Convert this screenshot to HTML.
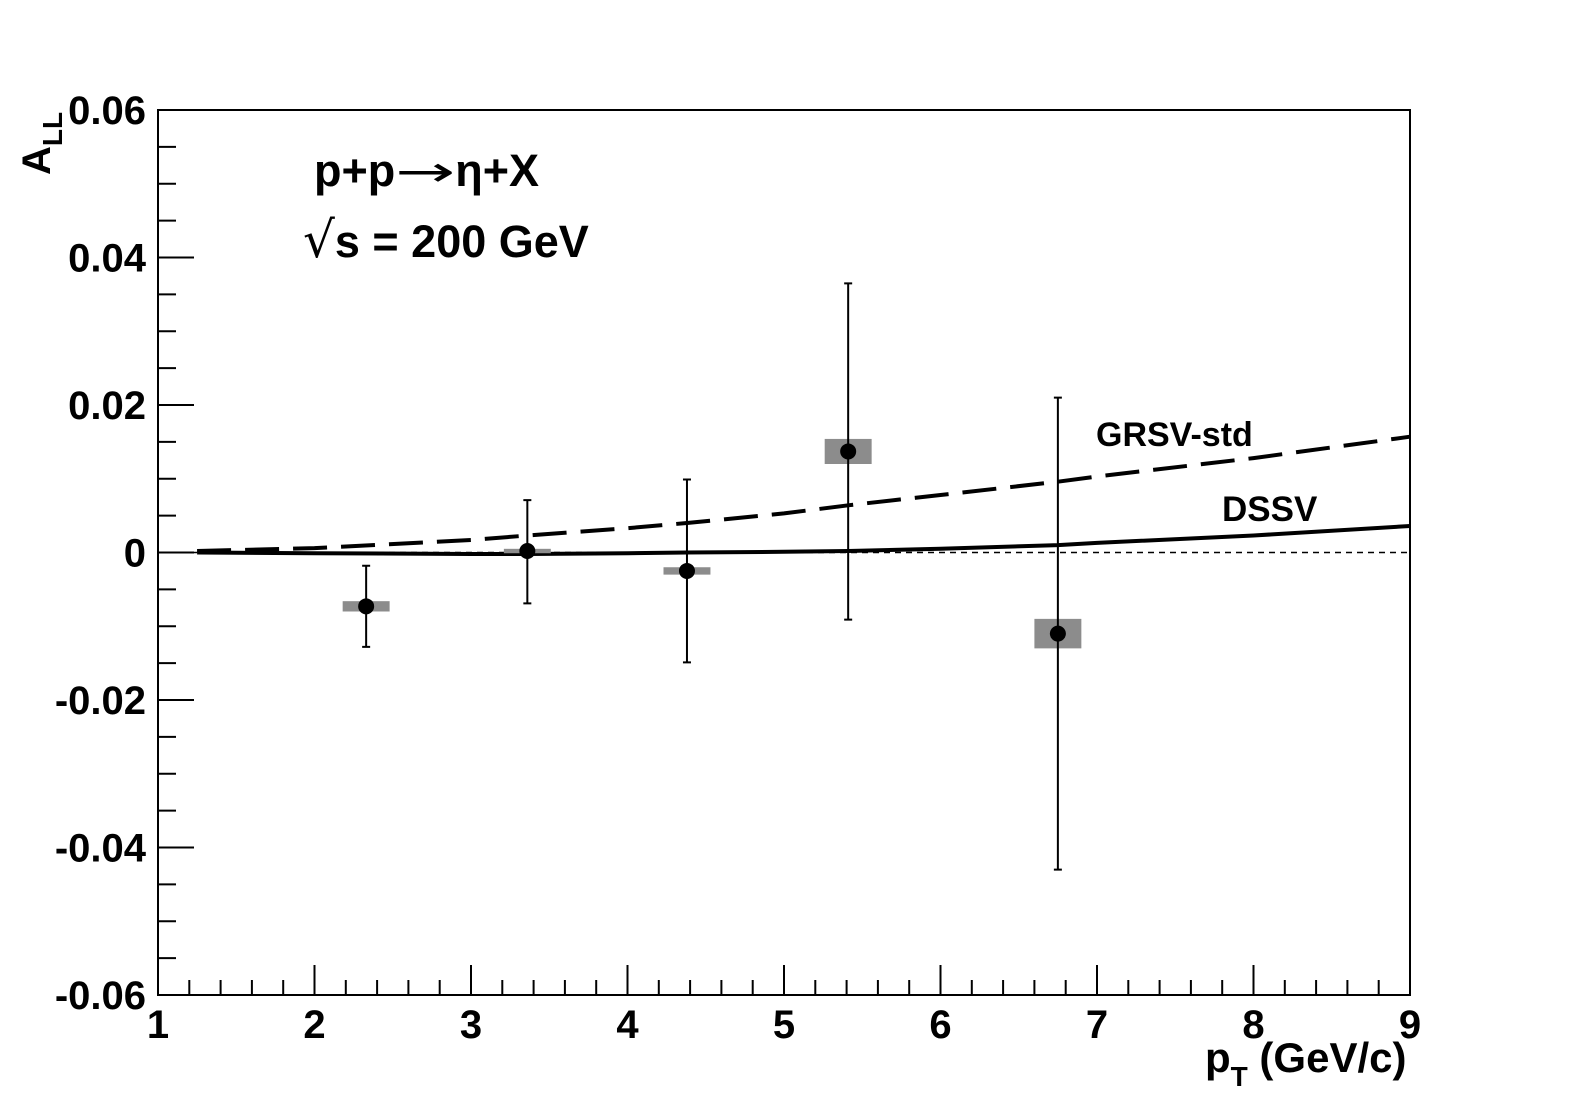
<!DOCTYPE html>
<html><head><meta charset="utf-8"><style>
body{margin:0;background:#fff;}
svg{display:block;font-family:"Liberation Sans",Arial,sans-serif;font-weight:bold;}
</style></head><body>
<svg width="1575" height="1111" viewBox="0 0 1575 1111">
<g id="frame"></g>
<g id="marks"></g>
<text x="314" y="186" font-size="45">p+p<tspan font-family="DejaVu Sans" font-weight="normal" font-size="42" textLength="60" lengthAdjust="spacingAndGlyphs">→</tspan>η+X</text>
<text x="303" y="257" font-size="45"><tspan font-weight="normal" font-family="DejaVu Sans" font-size="50">√</tspan>s = 200 GeV</text>
<text x="1096" y="446" font-size="34">GRSV-std</text>
<text x="1222" y="521" font-size="35">DSSV</text>
<text x="1205" y="1072" font-size="42">p<tspan font-size="28" dy="14">T</tspan><tspan dy="-14"> (GeV/c)</tspan></text>
<text transform="translate(50,175) rotate(-90)" font-size="40">A<tspan font-size="28" dy="12">LL</tspan></text>
</svg>
<script>
const xTicks=[1,2,3,4,5,6,7,8,9];
const yTicks=[-0.06,-0.04,-0.02,0,0.02,0.04,0.06];
const yTickLabels=["-0.06","-0.04","-0.02","0","0.02","0.04","0.06"];
const ptX=[2.33,3.36,4.38,5.41,6.75];
const allY=[-0.0073,0.0002,-0.0025,0.0137,-0.011];
const errLo=[0.0055,0.0071,0.0124,0.0228,0.032];
const errHi=[0.0055,0.0069,0.0124,0.0228,0.032];
const sysErr=[0.0007,0.0003,0.0005,0.0017,0.002];
const curveX=[1.25,2,3,3.36,4,4.38,5,5.41,6,6.75,7,8,9];
const grsvY=[0.0002,0.0006,0.0017,0.0023,0.0033,0.004,0.0053,0.0064,0.0078,0.0096,0.0103,0.0128,0.0157];
const dssvY=[0,-0.0001,-0.0002,-0.0002,-0.0001,0,0.0001,0.0002,0.0005,0.001,0.0013,0.0023,0.0036];
const X0=158,X1=1410,Y0=995,Y1=110;
const sx=v=>X0+(v-1)/8*(X1-X0);
const sy=v=>Y0-(v+0.06)/0.12*(Y0-Y1);
const NS='http://www.w3.org/2000/svg';
function mk(tag,attrs,parent){const e=document.createElementNS(NS,tag);for(const k in attrs)e.setAttribute(k,attrs[k]);parent.appendChild(e);return e;}
const F=document.getElementById('frame'),M=document.getElementById('marks');
let r=mk('rect',{x:X0,y:Y1,width:X1-X0,height:Y0-Y1,fill:'none',stroke:'#000','stroke-width':2},F);


for(let v=1;v<=9.0001;v+=0.2){const major=Math.abs(v-Math.round(v))<1e-6;
 const t=mk('line',{x1:sx(v),x2:sx(v),y1:Y0,y2:Y0-(major?30:15),stroke:'#000','stroke-width':2},F);
 
 }
xTicks.forEach(v=>{const t=mk('text',{x:sx(v),y:1038,'font-size':40,'text-anchor':'middle'},F);t.textContent=v;
 
 });
for(let i=0;i<=24;i++){const v=-0.06+i*0.005;const major=i%4==0;
 const t=mk('line',{x1:X0,x2:X0+(major?36:18),y1:sy(v),y2:sy(v),stroke:'#000','stroke-width':2},F);
 
 }
yTicks.forEach((v,i)=>{const t=mk('text',{x:146,y:sy(v)+14,'font-size':40,'text-anchor':'end'},F);t.textContent=yTickLabels[i];
 
 });
let z=mk('line',{x1:X0,x2:X1,y1:sy(0),y2:sy(0),stroke:'#000','stroke-width':1.5,'stroke-dasharray':'6,5'},M);


const path=ys=>curveX.map((x,i)=>(i?'L':'M')+sx(x).toFixed(1)+','+sy(ys[i]).toFixed(1)).join('');
let g=mk('path',{d:path(grsvY),fill:'none',stroke:'#000','stroke-width':4,'stroke-dasharray':'34,14'},M);


let d=mk('path',{d:path(dssvY),fill:'none',stroke:'#000','stroke-width':4},M);


ptX.forEach((x,i)=>{
 const b=mk('rect',{x:sx(x-0.15),y:sy(allY[i]+sysErr[i]),width:sx(x+0.15)-sx(x-0.15),height:Math.max(4,sy(allY[i]-sysErr[i])-sy(allY[i]+sysErr[i])),fill:'#8c8c8c'},M);
 
 
 const e=mk('path',{d:`M${sx(x)},${sy(allY[i]+errHi[i])}V${sy(allY[i]-errLo[i])}M${sx(x)-4},${sy(allY[i]+errHi[i])}h8M${sx(x)-4},${sy(allY[i]-errLo[i])}h8`,stroke:'#000','stroke-width':2,fill:'none'},M);
 
 
 const c=mk('circle',{cx:sx(x),cy:sy(allY[i]),r:8,fill:'#000'},M);
 
 
});
</script>
</body></html>
